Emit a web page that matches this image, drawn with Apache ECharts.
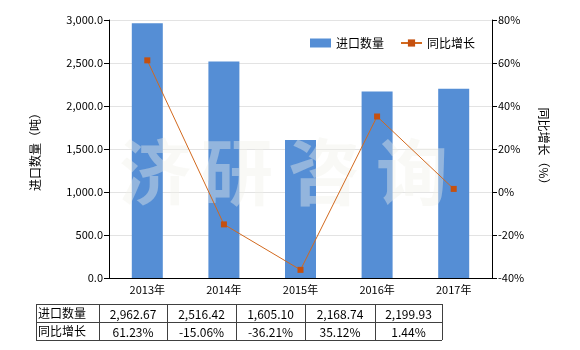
<!DOCTYPE html>
<html><head><meta charset="utf-8">
<script src="https://cdn.jsdelivr.net/npm/echarts@6/dist/echarts.min.js"></script>
<style>html,body{margin:0;padding:0;background:#fff}#c{width:580px;height:350px}</style>
</head><body><div id="c"></div>
<script>
var categories = ['2013年','2014年','2015年','2016年','2017年'];
var importQty = [2962.67, 2516.42, 1605.10, 2168.74, 2199.93];
var growth = [61.23, -15.06, -36.21, 35.12, 1.44];
var seriesNames = ['进口数量','同比增长'];

var FONT = '"Noto Sans CJK SC", "Microsoft YaHei", sans-serif';
function fmtNum(v, d){ return v.toLocaleString('en-US',{minimumFractionDigits:d, maximumFractionDigits:d}); }

var chart = echarts.init(document.getElementById('c'));

var colX = [36, 99, 167, 236, 305, 375, 442];
var rowY = [304, 322, 340];
var g = [];
var wm = ['济','研','咨','询'];
var wmX = [155, 237, 324, 412];
for (var i=0;i<wm.length;i++){
  g.push({type:'text', left: wmX[i]-36, top: 136, z: 4, silent:true,
    style:{text: wm[i], font: 'bold 72px ' + FONT, fill:'rgba(240,240,232,0.4)'}});
}
var lineStyle = {stroke:'#404040', lineWidth:1};
for (var r=0;r<rowY.length;r++){
  g.push({type:'line', shape:{x1:colX[0], y1:rowY[r]+0.5, x2:colX[colX.length-1], y2:rowY[r]+0.5}, style:lineStyle, z:10});
}
for (var c=0;c<colX.length;c++){
  g.push({type:'line', shape:{x1:colX[c]+0.5, y1:rowY[0], x2:colX[c]+0.5, y2:rowY[2]}, style:lineStyle, z:10});
}
var rows = [
  [seriesNames[0]].concat(importQty.map(function(v){return fmtNum(v,2);})),
  [seriesNames[1]].concat(growth.map(function(v){return v.toFixed(2)+'%';}))
];
for (var r=0;r<rows.length;r++){
  var yc = (rowY[r]+rowY[r+1])/2;
  for (var c=0;c<rows[r].length;c++){
    if (c===0){
      g.push({type:'text', x: colX[0]+2, y: yc, z:10,
        style:{text: rows[r][c], font:'12px '+FONT, fill:'#000', textAlign:'left', textVerticalAlign:'middle'}});
    } else {
      g.push({type:'text', x: (colX[c]+colX[c+1])/2, y: yc+1, z:10,
        style:{text: rows[r][c], font:'12px '+FONT, fill:'#000', textAlign:'center', textVerticalAlign:'middle'}});
    }
  }
}

chart.setOption({
  animation:false,
  textStyle:{fontFamily:FONT},
  grid:{left:109, right:88, top:20, bottom:72},
  legend:{
    left:305, top:32, itemWidth:21, itemHeight:9, itemGap:16,
    textStyle:{fontSize:12, color:'#000', fontFamily:FONT},
    data:[{name:seriesNames[0], icon:'rect'}, {name:seriesNames[1]}]
  },
  xAxis:{
    type:'category', data:categories,
    axisLine:{lineStyle:{color:'#000'}},
    axisTick:{alignWithLabel:true, length:5, lineStyle:{color:'#000'}},
    axisLabel:{color:'#000', fontSize:11, margin:6}
  },
  yAxis:[{
    type:'value', min:0, max:3000, interval:500,
    name:'进口数量（吨）', nameLocation:'middle', nameGap:68,
    nameTextStyle:{fontSize:12, color:'#000'},
    axisLine:{show:true, lineStyle:{color:'#000'}},
    axisTick:{show:true, length:5, lineStyle:{color:'#000'}},
    axisLabel:{color:'#000', fontSize:11, margin:6, formatter:function(v){return fmtNum(v,1);}},
    splitLine:{lineStyle:{color:'#e3e3e3'}}
  },{
    type:'value', min:-40, max:80, interval:20, position:'right',
    name:'同比增长（%）', nameLocation:'middle', nameGap:46, nameRotate:-90,
    nameTextStyle:{fontSize:12, color:'#000'},
    axisLine:{show:true, lineStyle:{color:'#000'}},
    axisTick:{show:true, length:5, lineStyle:{color:'#000'}},
    axisLabel:{color:'#000', fontSize:11, margin:6, formatter:'{value}%'},
    splitLine:{show:false}
  }],
  graphic:g,
  series:[{
    name:seriesNames[0], type:'bar', data:importQty, barWidth:31,
    itemStyle:{color:'#558ED5'}, z:2
  },{
    name:seriesNames[1], type:'line', yAxisIndex:1, data:growth,
    symbol:'rect', symbolSize:6,
    lineStyle:{color:'#D2691E', width:1},
    itemStyle:{color:'#C5500F'}, z:5
  }]
});
</script></body></html>
